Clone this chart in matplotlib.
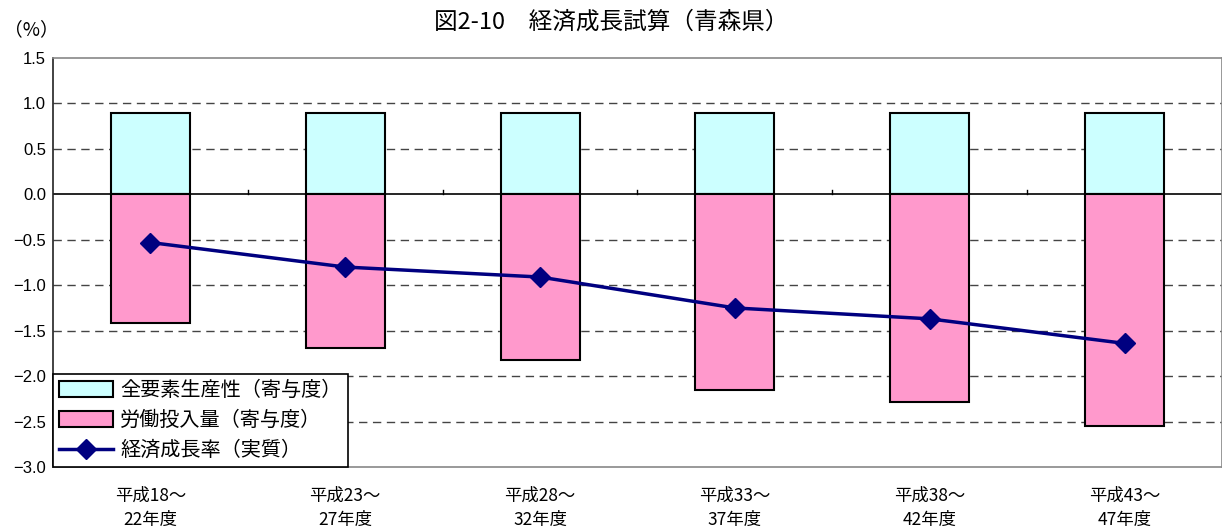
import numpy as np
import matplotlib.pyplot as plt
from matplotlib.lines import Line2D
from matplotlib.patches import Patch

plt.rcParams['font.family'] = ['Noto Sans CJK JP', 'DejaVu Sans']

# データ
periods = ["平成18～\n22年度", "平成23～\n27年度", "平成28～\n32年度",
           "平成33～\n37年度", "平成38～\n42年度", "平成43～\n47年度"]
tfp = [0.89, 0.89, 0.89, 0.89, 0.89, 0.89]
labor = [-1.42, -1.69, -1.82, -2.15, -2.28, -2.55]
growth = [-0.53, -0.80, -0.91, -1.25, -1.37, -1.64]
yticks = [-3.0, -2.5, -2.0, -1.5, -1.0, -0.5, 0.0, 0.5, 1.0, 1.5]

x = np.arange(len(periods))

fig = plt.figure(figsize=(12.22, 5.29), dpi=100)
ax = fig.add_axes([53 / 1222, 1 - 467 / 529, 1169 / 1222, 409 / 529])

ax.bar(x, tfp, width=0.405, color='#ccffff', edgecolor='black', linewidth=1.5, zorder=2)
ax.bar(x, labor, width=0.405, color='#ff99cc', edgecolor='black', linewidth=1.5, zorder=2)
ax.plot(x, growth, color='#000080', linewidth=2.5, marker='D', markersize=10, zorder=3)

ax.set_xlim(-0.5, len(periods) - 0.5)
ax.set_ylim(-3.0, 1.5)
ax.set_yticks(yticks)
ax.set_yticklabels([f"{v:.1f}".replace('-', '−') for v in yticks],
                   fontsize=12, family='Liberation Sans')
ax.tick_params(axis='y', length=0, pad=5)

for v in yticks[1:-1]:
    if v != 0:
        ax.axhline(v, color='#444444', linestyle=(0, (6, 4)), linewidth=1, zorder=1)
ax.axhline(0, color='black', linewidth=1.2, zorder=1.5)

# 区切りの目盛り（0の線上）
for b in np.arange(0.5, len(periods) - 0.5, 1):
    ax.plot([b, b], [0, 0.05], color='black', linewidth=1, zorder=1.5)

ax.set_xticks(x)
ax.set_xticklabels(periods, fontsize=12.5, linespacing=1.45)
ax.tick_params(axis='x', length=0, pad=14)

for side in ['top', 'right', 'bottom']:
    ax.spines[side].set_color('#888888')
    ax.spines[side].set_linewidth(1.2)
ax.spines['left'].set_color('#222222')
ax.spines['left'].set_linewidth(1.2)

fig.text(0.5, 1 - 22 / 529, "図2-10　経済成長試算（青森県）", ha='center', va='center', fontsize=17)
fig.text(4 / 1222, 1 - 30 / 529, "（%）", ha='left', va='center', fontsize=13.5)

handles = [Patch(facecolor='#ccffff', edgecolor='black', linewidth=1.5),
           Patch(facecolor='#ff99cc', edgecolor='black', linewidth=1.5),
           Line2D([], [], color='#000080', linewidth=2.5, marker='D', markersize=10)]
labels = ["全要素生産性（寄与度）", "労働投入量（寄与度）", "経済成長率（実質）"]
leg = ax.legend(handles, labels, loc='lower left', bbox_to_anchor=(0, 0), fontsize=14.5,
                frameon=True, fancybox=False, framealpha=1, edgecolor='black',
                borderaxespad=0, handlelength=2.7, handleheight=0.8,
                labelspacing=0.45, borderpad=0.3, handletextpad=0.35)
leg.get_frame().set_linewidth(1.2)
leg.set_zorder(5)

fig.savefig("out.png", dpi=100)
